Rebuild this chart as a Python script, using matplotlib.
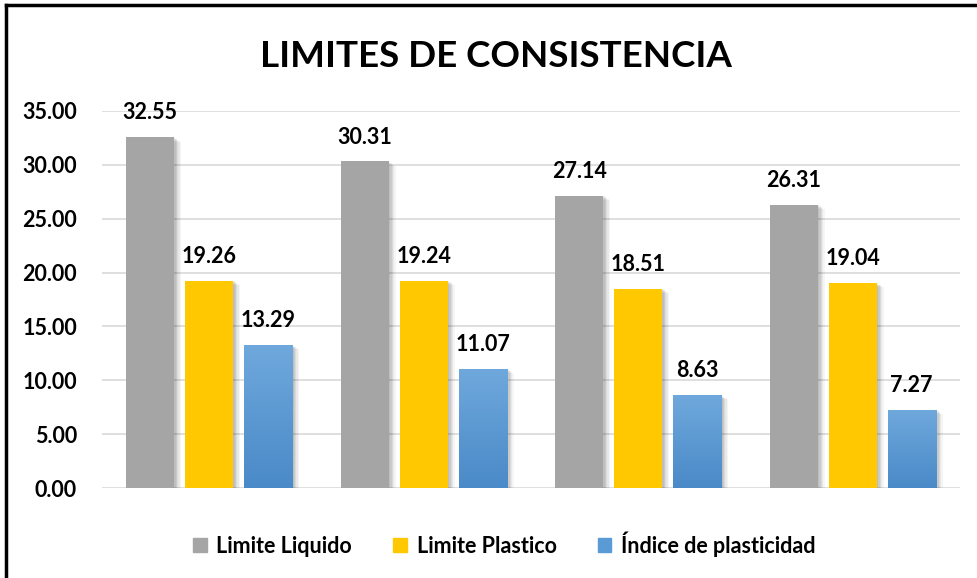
import numpy as np
import matplotlib
matplotlib.use("Agg")
import matplotlib.pyplot as plt
import matplotlib.patheffects as pe
from matplotlib.lines import Line2D

plt.rcParams['font.family'] = ['Lato', 'DejaVu Sans']
plt.rcParams['font.weight'] = 'bold'

muestras = ["M-1", "M-2", "M-3", "M-4"]
limite_liquido = [32.55, 30.31, 27.14, 26.31]
limite_plastico = [19.26, 19.24, 18.51, 19.04]
indice_plasticidad = [13.29, 11.07, 8.63, 7.27]
series_names = ["Limite Liquido", "Limite Plastico", "Índice de plasticidad"]
y_ticks = [0, 5, 10, 15, 20, 25, 30, 35]

fig = plt.figure(figsize=(9.77, 5.78), dpi=100)
ax = fig.add_axes([0.1044, 0.1557, 0.8782, 0.6523])

x = np.arange(len(muestras))
w = 0.224
step = 0.275
# sombra difusa tipo Excel
shadow = [pe.SimplePatchShadow(offset=(o, -o * 0.6), shadow_rgbFace='black', alpha=a)
          for o, a in ((5, 0.04), (4, 0.05), (3, 0.06), (2, 0.07), (1, 0.06))]
shadow.append(pe.Normal())

b1 = ax.bar(x - step, limite_liquido, w, color='#a5a5a5', zorder=3, path_effects=shadow)
b2 = ax.bar(x, limite_plastico, w, color='#ffc800', zorder=3, path_effects=shadow)
b3 = ax.bar(x + step, indice_plasticidad, w, color='#5b9bd5', zorder=3, path_effects=shadow)

# degradado vertical en las barras azules
grad = np.linspace(0, 1, 256).reshape(-1, 1)
cmap = matplotlib.colors.LinearSegmentedColormap.from_list('azul', ['#4a8ac8', '#6fa8dc'])
for bar in b3:
    bx, by = bar.get_x(), bar.get_y()
    bw, bh = bar.get_width(), bar.get_height()
    im = ax.imshow(grad, extent=[bx, bx + bw, by, by + bh], origin='lower',
                   cmap=cmap, aspect='auto', zorder=4)
    im.set_clip_path(bar)

for bars in (b1, b2, b3):
    for bar in bars:
        h = bar.get_height()
        ax.annotate(f"{h:.2f}", (bar.get_x() + bar.get_width() / 2, h),
                    xytext=(0, 10), textcoords='offset points',
                    ha='center', va='bottom', fontsize=15.5, fontweight='bold')

ax.set_xlim(-0.5, len(muestras) - 0.5)
ax.set_ylim(0, 35)
ax.set_yticks(y_ticks)
ax.set_yticklabels([f"{v:.2f}" for v in y_ticks], fontsize=15.5, fontweight='bold')
ax.set_xticks([])
ax.tick_params(axis='y', length=0, pad=18)
for s in ax.spines.values():
    s.set_visible(False)
ax.grid(axis='y', color='#d9d9d9', linewidth=1.2, zorder=0)
ax.set_axisbelow(True)
ax.set_autoscale_on(False)

fig.text(0.508, 0.902, "LIMITES DE CONSISTENCIA", ha='center', va='center',
         fontsize=26.5, fontweight='bold')

handles = [plt.Rectangle((0, 0), 1, 1, color=c) for c in ('#a5a5a5', '#ffc800', '#5b9bd5')]
fig.legend(handles, series_names, loc='center', bbox_to_anchor=(0.516, 0.059), ncol=3,
           frameon=False, handlelength=0.65, handleheight=0.65,
           handletextpad=0.45, columnspacing=1.9, prop={'weight': 'bold', 'size': 15.5})

fig.add_artist(Line2D([0.006, 0.006], [0, 0.991], color='black', linewidth=2.5, transform=fig.transFigure))
fig.add_artist(Line2D([0.006, 1], [0.991, 0.991], color='black', linewidth=2.5, transform=fig.transFigure))

fig.savefig("out.png", dpi=100)
